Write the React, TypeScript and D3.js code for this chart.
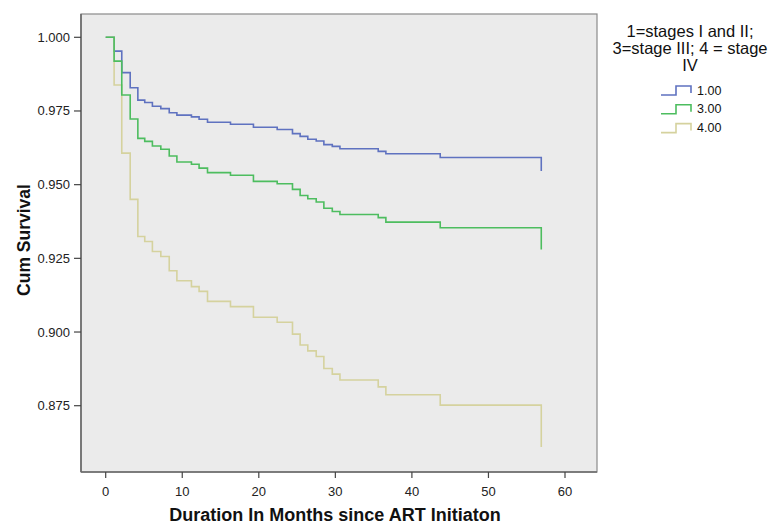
import React from "react";
import * as d3 from "d3";

const seriesNames = ["1.00", "3.00", "4.00"];
const seriesColors = ["#5f72c0", "#4dbd5f", "#d5d29e"];

const times = [0, 1.1, 2.1, 3.2, 4.2, 5.1, 6.1, 7.2, 8.3, 9.3, 11.2, 12.2, 13.3, 16.3, 19.3, 22.4, 24.4, 25.4, 26.4, 27.5, 28.5, 29.6, 30.6, 35.6, 36.6, 43.7, 56.9];

const survStage12 = [1.0, 0.9953, 0.988, 0.9829, 0.9787, 0.9779, 0.9766, 0.9758, 0.9744, 0.9736, 0.973, 0.9722, 0.9712, 0.9705, 0.9695, 0.9687, 0.9673, 0.9664, 0.9654, 0.9648, 0.9636, 0.963, 0.9622, 0.9613, 0.9605, 0.9592, 0.9546];
const survStage3 = [1.0, 0.9919, 0.9804, 0.9723, 0.9657, 0.9647, 0.9631, 0.962, 0.9597, 0.9577, 0.9569, 0.9556, 0.9541, 0.9532, 0.9511, 0.9503, 0.9484, 0.9463, 0.9452, 0.9441, 0.942, 0.9409, 0.9399, 0.9388, 0.9373, 0.9354, 0.928];
const survStage4 = [1.0, 0.9838, 0.9607, 0.945, 0.9324, 0.9307, 0.9273, 0.9256, 0.9208, 0.9174, 0.9154, 0.9138, 0.9104, 0.9086, 0.905, 0.9033, 0.8993, 0.8956, 0.8936, 0.8917, 0.8876, 0.8857, 0.8837, 0.8814, 0.8787, 0.8752, 0.861];

const xTicks = [0, 10, 20, 30, 40, 50, 60];
const yTicks = [0.875, 0.9, 0.925, 0.95, 0.975, 1.0];

const xTitle = "Duration In Months since ART Initiaton";
const yTitle = "Cum Survival";
const legendTitle = ["1=stages I and II;", "3=stage III; 4 = stage", "IV"];

const FONT = "'Liberation Sans', Arial, sans-serif";

export default function App() {
  const W = 772, H = 524;
  const frame = { l: 81, r: 597, t: 14, b: 472 };
  const x = d3.scaleLinear().domain([0, 60]).range([105.7, 565]);
  const y = d3.scaleLinear().domain([0.875, 1.0]).range([405.7, 37.3]);
  const line = d3.line<[number, number]>()
    .x(d => x(d[0]))
    .y(d => y(d[1]))
    .curve(d3.curveStepAfter);

  const all = [survStage12, survStage3, survStage4];
  const drawOrder = [0, 2, 1];
  const fmt = d3.format(".3f");

  return (
    <svg width={W} height={H} style={{ position: "absolute", left: 0, top: 0, background: "#fff" }} fontFamily={FONT}>
      <rect x={frame.l} y={frame.t} width={frame.r - frame.l} height={frame.b - frame.t} fill="#ebebeb" stroke="#8a8a8a" strokeWidth={1.2} />
      {drawOrder.map(i => (
        <path key={i} d={line(times.map((t, k) => [t, all[i][k]] as [number, number])) || ""} fill="none" stroke={seriesColors[i]} strokeWidth={1.6} />
      ))}
      <line x1={frame.l} x2={frame.l} y1={frame.t} y2={frame.b} stroke="#6a6a6a" strokeWidth={1.6} />
      <line x1={frame.l} x2={frame.r} y1={frame.b} y2={frame.b} stroke="#6a6a6a" strokeWidth={1.6} />
      {xTicks.map(t => (
        <g key={t}>
          <line x1={x(t)} x2={x(t)} y1={frame.b} y2={frame.b + 6} stroke="#444" strokeWidth={1.2} />
          <text x={x(t)} y={frame.b + 24} textAnchor="middle" fontSize={13} fill="#222">{t}</text>
        </g>
      ))}
      {yTicks.map(t => (
        <g key={t}>
          <line x1={frame.l - 7} x2={frame.l} y1={y(t)} y2={y(t)} stroke="#444" strokeWidth={1.2} />
          <text x={frame.l - 11} y={y(t) + 4.5} textAnchor="end" fontSize={13} fill="#222">{fmt(t)}</text>
        </g>
      ))}
      <text x={335} y={521} textAnchor="middle" fontSize={18} fontWeight="bold" fill="#111">{xTitle}</text>
      <text transform={`translate(30,240) rotate(-90)`} textAnchor="middle" fontSize={17.5} fontWeight="bold" fill="#111">{yTitle}</text>
      {legendTitle.map((s, i) => (
        <text key={i} x={690} y={37 + i * 17} textAnchor="middle" fontSize={16.5} fill="#111">{s}</text>
      ))}
      {seriesNames.map((n, i) => {
        const cy = 90 + i * 18.8;
        const p = `M661,${cy + 5} H676 V${cy - 4} H691 V${cy + 3}`;
        return (
          <g key={n}>
            <path d={p} fill="none" stroke={seriesColors[i]} strokeWidth={1.6} />
            <text x={697} y={cy + 4.5} fontSize={12.5} fill="#111">{n}</text>
          </g>
        );
      })}
    </svg>
  );
}
